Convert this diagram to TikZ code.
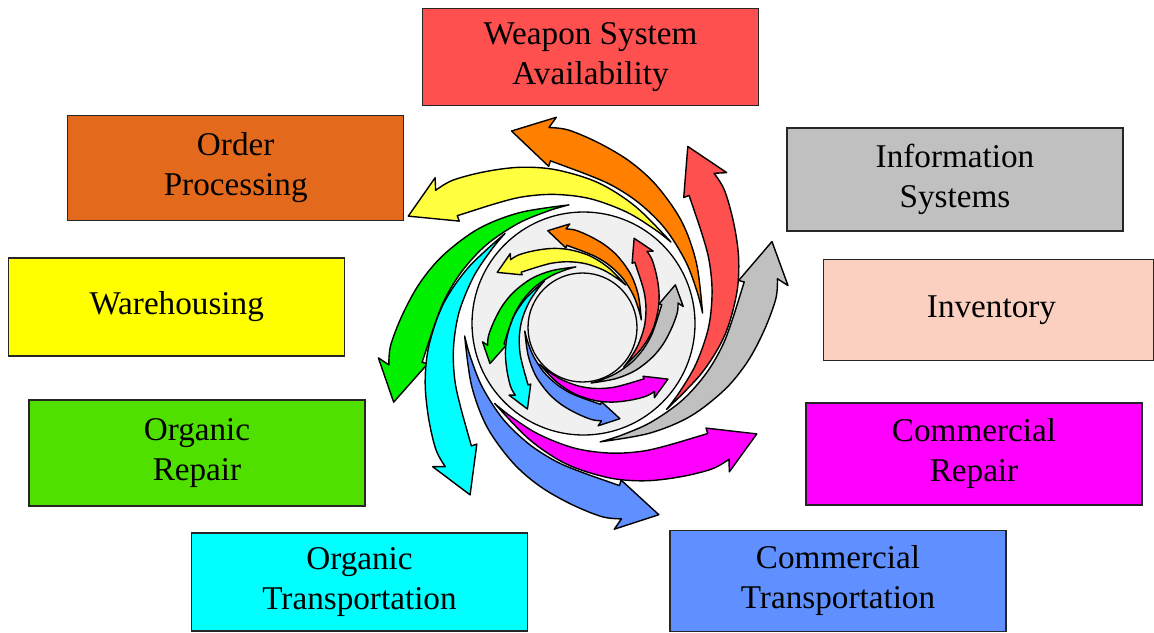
\documentclass[tikz,border=0pt]{standalone}
\usepackage{fontspec}
\setmainfont{Liberation Serif}
\definecolor{boxred}{HTML}{FF5050}
\definecolor{boxorange}{HTML}{E36A1C}
\definecolor{boxgray}{HTML}{C0C0C0}
\definecolor{boxyellow}{HTML}{FFFF00}
\definecolor{boxpeach}{HTML}{FBD0C0}
\definecolor{boxgreen}{HTML}{50E000}
\definecolor{boxmagenta}{HTML}{FF00FF}
\definecolor{boxcyan}{HTML}{00FFFF}
\definecolor{boxblue}{HTML}{6090FF}
\definecolor{arrorange}{HTML}{FF8000}
\definecolor{arrred}{HTML}{FF5050}
\definecolor{arrgray}{HTML}{C0C0C0}
\definecolor{arrmagenta}{HTML}{FF00FF}
\definecolor{arrblue}{HTML}{6090FF}
\definecolor{arrcyan}{HTML}{00FFFF}
\definecolor{arrgreen}{HTML}{00F000}
\definecolor{arryellow}{HTML}{FFFF40}
\definecolor{discgray}{HTML}{F0F0F0}
\begin{document}
\begin{tikzpicture}[x=0.5pt,y=0.5pt]
\useasboundingbox (0,0) rectangle (1154,-632);
\tikzset{
  box/.style={draw=black!85, line width=0.7pt, minimum width=168pt, align=center,
    font=\fontsize{16.6}{20}\selectfont, inner sep=0pt},
  disc/.style={draw=black, line width=0.65pt, fill=discgray},
  swirlstyle/.style={draw=black, line width=0.7pt, line join=round},
  swirl/.pic={
    \path[pic actions] plot[smooth,tension=0.55] coordinates {(5:119.5) (28:128) (46:141.5) (62:156) (74:168.5) (85:181) (94.4:194) (100:199)}
      -- (97.5:208) -- (110.5:205.5) -- (102.5:161) -- (101.5:166)
      -- plot[smooth,tension=0.55] coordinates {(92:152.5) (79:141.5) (65:132.5) (49:125) (31:119.5) (15:118) (5:119.5)} -- cycle;
  }
}
% boxes
\node[box, fill=boxred, minimum height=48.5pt] (wsa) at (590.5,-57.2) {Weapon System\\Availability};
\node[box, fill=boxorange, minimum height=52.5pt] (op) at (235.7,-167.8) {Order\\Processing};
\node[box, fill=boxgray, minimum height=51.5pt] (is) at (955,-179.5) {Information\\Systems};
\node[box, fill=boxyellow, minimum height=49pt] (wh) at (176.7,-307) {Warehousing};
\node[box, fill=boxpeach, minimum height=50.5pt, minimum width=165pt] (inv) at (988.5,-310) {\hspace*{3pt}Inventory};
\node[box, fill=boxgreen, minimum height=53pt] (or) at (197,-453) {Organic\\Repair};
\node[box, fill=boxmagenta, minimum height=51pt] (cr) at (974,-454) {Commercial\\Repair};
\node[box, fill=boxcyan, minimum height=49pt] (ot) at (359.5,-582) {Organic\\Transportation};
\node[box, fill=boxblue, minimum height=50.5pt] (ct) at (838,-581) {Commercial\\Transportation};
% centre discs
\coordinate (c) at (583.5,-323.5);
\coordinate (ci) at (583,-325);
\node[disc, circle, minimum size=111.5pt, inner sep=0pt] (outerdisc) at (c) {};
\node[disc, circle, minimum size=54.5pt, inner sep=0pt] (innerdisc) at (582.5,-327.5) {};
% outer swirl arrows
\pic[swirlstyle, fill=arrorange, rotate=0] (a1) at (c) {swirl};
\pic[swirlstyle, fill=arryellow, rotate=38] (a2) at (c) {swirl};
\pic[swirlstyle, fill=arrgreen, rotate=92] (a3) at (c) {swirl};
\pic[swirlstyle, fill=arrcyan, rotate=126] (a4) at (c) {swirl};
\pic[swirlstyle, fill=arrblue, rotate=181] (a5) at (c) {swirl};
\pic[swirlstyle, fill=arrmagenta, rotate=217] (a6) at (c) {swirl};
\pic[swirlstyle, fill=arrgray, rotate=273] (a7) at (c) {swirl};
\pic[swirlstyle, fill=arrred, rotate=309] (a8) at (c) {swirl};
% inner swirl arrows
\pic[swirlstyle, fill=arrorange, rotate=0, scale=0.49] (b1) at (ci) {swirl};
\pic[swirlstyle, fill=arryellow, rotate=38, scale=0.49] (b2) at (ci) {swirl};
\pic[swirlstyle, fill=arrgreen, rotate=92, scale=0.49] (b3) at (ci) {swirl};
\pic[swirlstyle, fill=arrcyan, rotate=126, scale=0.49] (b4) at (ci) {swirl};
\pic[swirlstyle, fill=arrblue, rotate=181, scale=0.49] (b5) at (ci) {swirl};
\pic[swirlstyle, fill=arrmagenta, rotate=217, scale=0.49] (b6) at (ci) {swirl};
\pic[swirlstyle, fill=arrgray, rotate=273, scale=0.49] (b7) at (ci) {swirl};
\pic[swirlstyle, fill=arrred, rotate=309, scale=0.49] (b8) at (ci) {swirl};
\end{tikzpicture}
\end{document}
